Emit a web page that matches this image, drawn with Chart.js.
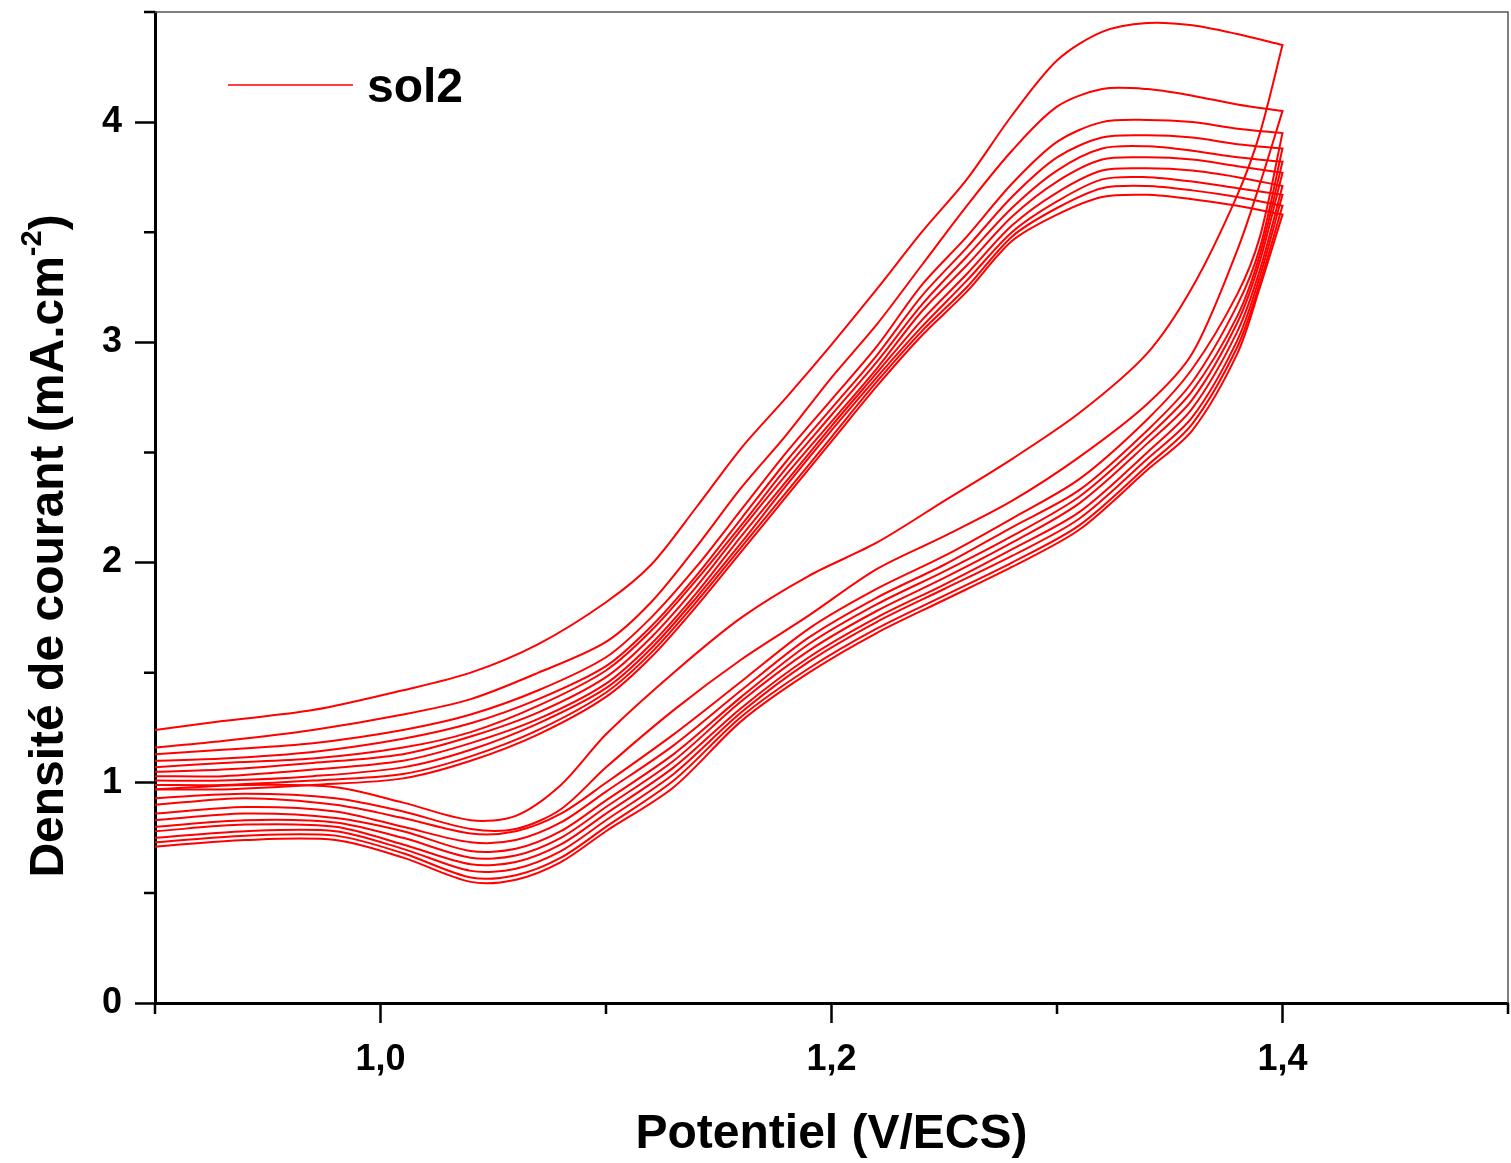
<!DOCTYPE html>
<html>
<head>
<meta charset="utf-8">
<script src="https://cdn.jsdelivr.net/npm/chart.js@4.4.0/dist/chart.umd.min.js"></script>
<style>
html, body { margin: 0; padding: 0; background: #fff; }
canvas { display: block; }
</style>
</head>
<body>
<canvas id="cvChart" width="1511" height="1163"></canvas>
<script>
// Potential (V/ECS) for the forward scan and the reverse scan
const potForward = [0.90, 0.94, 0.98, 1.01, 1.04, 1.06, 1.08, 1.10, 1.13, 1.16, 1.19, 1.22, 1.25, 1.28, 1.31, 1.34, 1.36, 1.38, 1.39, 1.40];
const potReverse = [1.40, 1.38, 1.36, 1.34, 1.32, 1.30, 1.28, 1.26, 1.24, 1.22, 1.20, 1.18, 1.16, 1.14, 1.12, 1.10, 1.07, 1.04, 1.01, 0.97, 0.93, 0.90];

// current density (mA.cm-2), forward scan, cycle 1..10
const fwd1  = [0.97, 0.99, 0.98, 0.91, 0.83, 0.85, 0.99, 1.22, 1.50, 1.75, 1.94, 2.09, 2.28, 2.47, 2.68, 2.95, 3.25, 3.67, 3.95, 4.35];
const fwd2  = [0.93, 0.95, 0.93, 0.87, 0.79, 0.79, 0.88, 1.07, 1.33, 1.56, 1.76, 1.97, 2.12, 2.28, 2.48, 2.72, 2.95, 3.42, 3.72, 4.05];
const fwd3  = [0.90, 0.93, 0.90, 0.84, 0.77, 0.78, 0.86, 1.00, 1.22, 1.46, 1.70, 1.88, 2.03, 2.20, 2.38, 2.65, 2.88, 3.22, 3.48, 3.95];
const fwd4  = [0.86, 0.89, 0.87, 0.80, 0.73, 0.74, 0.82, 0.96, 1.17, 1.42, 1.66, 1.84, 1.99, 2.16, 2.33, 2.60, 2.82, 3.17, 3.43, 3.88];
const fwd5  = [0.83, 0.86, 0.84, 0.78, 0.69, 0.70, 0.78, 0.92, 1.13, 1.39, 1.63, 1.81, 1.96, 2.12, 2.30, 2.57, 2.78, 3.12, 3.40, 3.82];
const fwd6  = [0.80, 0.83, 0.82, 0.75, 0.66, 0.67, 0.75, 0.89, 1.10, 1.37, 1.60, 1.78, 1.93, 2.09, 2.27, 2.54, 2.74, 3.09, 3.37, 3.77];
const fwd7  = [0.78, 0.81, 0.80, 0.72, 0.63, 0.64, 0.72, 0.86, 1.07, 1.34, 1.57, 1.75, 1.90, 2.06, 2.23, 2.50, 2.70, 3.05, 3.33, 3.71];
const fwd8  = [0.75, 0.78, 0.78, 0.70, 0.60, 0.61, 0.69, 0.83, 1.04, 1.32, 1.55, 1.73, 1.88, 2.03, 2.20, 2.47, 2.66, 3.01, 3.30, 3.67];
const fwd9  = [0.73, 0.76, 0.76, 0.68, 0.57, 0.58, 0.66, 0.80, 1.01, 1.30, 1.52, 1.70, 1.85, 2.00, 2.17, 2.44, 2.63, 2.98, 3.27, 3.62];
const fwd10 = [0.71, 0.74, 0.74, 0.66, 0.55, 0.56, 0.64, 0.78, 0.98, 1.28, 1.50, 1.68, 1.83, 1.98, 2.15, 2.42, 2.60, 2.95, 3.25, 3.58];

// current density (mA.cm-2), reverse scan, cycle 1..10
const rev1  = [4.35, 4.40, 4.44, 4.45, 4.41, 4.28, 4.03, 3.74, 3.50, 3.24, 2.99, 2.75, 2.52, 2.25, 1.99, 1.82, 1.63, 1.50, 1.42, 1.33, 1.28, 1.24];
const rev2  = [4.05, 4.08, 4.12, 4.15, 4.15, 4.07, 3.87, 3.62, 3.35, 3.08, 2.84, 2.58, 2.34, 2.07, 1.82, 1.64, 1.50, 1.38, 1.31, 1.24, 1.19, 1.16];
const rev3  = [3.95, 3.97, 4.00, 4.01, 4.00, 3.91, 3.72, 3.48, 3.26, 2.98, 2.74, 2.50, 2.24, 1.98, 1.75, 1.57, 1.42, 1.31, 1.24, 1.18, 1.15, 1.13];
const rev4  = [3.88, 3.90, 3.93, 3.94, 3.93, 3.84, 3.66, 3.43, 3.21, 2.94, 2.70, 2.46, 2.20, 1.94, 1.71, 1.53, 1.38, 1.27, 1.20, 1.14, 1.11, 1.10];
const rev5  = [3.82, 3.84, 3.87, 3.89, 3.88, 3.78, 3.61, 3.39, 3.17, 2.91, 2.67, 2.43, 2.17, 1.92, 1.69, 1.51, 1.35, 1.23, 1.16, 1.11, 1.09, 1.07];
const rev6  = [3.77, 3.80, 3.83, 3.84, 3.83, 3.73, 3.57, 3.35, 3.14, 2.88, 2.64, 2.40, 2.15, 1.89, 1.66, 1.48, 1.32, 1.21, 1.13, 1.09, 1.06, 1.05];
const rev7  = [3.71, 3.75, 3.78, 3.79, 3.78, 3.68, 3.53, 3.31, 3.10, 2.86, 2.62, 2.37, 2.12, 1.86, 1.63, 1.45, 1.29, 1.18, 1.10, 1.06, 1.03, 1.03];
const rev8  = [3.67, 3.70, 3.73, 3.75, 3.74, 3.64, 3.50, 3.28, 3.07, 2.84, 2.60, 2.35, 2.09, 1.84, 1.61, 1.43, 1.27, 1.15, 1.07, 1.03, 1.01, 1.01];
const rev9  = [3.62, 3.66, 3.69, 3.71, 3.70, 3.61, 3.48, 3.25, 3.05, 2.82, 2.57, 2.32, 2.07, 1.82, 1.59, 1.41, 1.24, 1.12, 1.04, 1.01, 0.99, 0.99];
const rev10 = [3.58, 3.62, 3.65, 3.67, 3.66, 3.58, 3.46, 3.23, 3.03, 2.80, 2.55, 2.30, 2.05, 1.80, 1.57, 1.39, 1.22, 1.10, 1.02, 0.99, 0.97, 0.97];

const xTickValues = [1.0, 1.2, 1.4];
const xTickLabels = ['1,0', '1,2', '1,4'];
const xMinorValues = [0.9, 1.1, 1.3, 1.5];
const yTickValues = [0, 1, 2, 3, 4];
const yMinorValues = [0.5, 1.5, 2.5, 3.5, 4.5];
const seriesName = 'sol2';
const xTitle = 'Potentiel (V/ECS)';

const forwardScans = [fwd1, fwd2, fwd3, fwd4, fwd5, fwd6, fwd7, fwd8, fwd9, fwd10];
const reverseScans = [rev1, rev2, rev3, rev4, rev5, rev6, rev7, rev8, rev9, rev10];

const RED = '#ff0000';
const FONT = '"Liberation Sans", Arial, sans-serif';

const datasets = forwardScans.map((fwd, i) => ({
    label: seriesName,
    data: potForward.map((p, j) => ({ x: p, y: fwd[j] }))
        .concat(potReverse.map((p, j) => ({ x: p, y: reverseScans[i][j] }))),
    showLine: true,
    borderColor: RED,
    borderWidth: 2,
    pointRadius: 0,
    tension: 0.3,
    fill: false
}));

// minor ticks, frame, titles and legend
const decorations = {
    id: 'decorations',
    afterDraw(chart) {
        const ctx = chart.ctx;
        const a = chart.chartArea;
        const xs = chart.scales.x;
        const ys = chart.scales.y;
        ctx.save();

        // thin frame on top and right
        ctx.strokeStyle = '#555';
        ctx.lineWidth = 1.5;
        ctx.beginPath();
        ctx.moveTo(a.left, a.top);
        ctx.lineTo(a.right, a.top);
        ctx.lineTo(a.right, a.bottom);
        ctx.stroke();

        // minor ticks
        ctx.strokeStyle = '#000';
        ctx.lineWidth = 2.5;
        ctx.beginPath();
        xMinorValues.forEach(v => {
            const px = xs.getPixelForValue(v);
            ctx.moveTo(px, a.bottom);
            ctx.lineTo(px, a.bottom + 11);
        });
        yMinorValues.forEach(v => {
            const py = ys.getPixelForValue(v);
            ctx.moveTo(a.left, py);
            ctx.lineTo(a.left - 11, py);
        });
        ctx.stroke();

        // x title
        ctx.fillStyle = '#000';
        ctx.font = 'bold 48px ' + FONT;
        ctx.textAlign = 'center';
        ctx.textBaseline = 'alphabetic';
        ctx.fillText(xTitle, (a.left + a.right) / 2, 1148);

        // y title with superscript
        const main = 'Densité de courant (mA.cm';
        const sup = '-2';
        const tail = ')';
        ctx.font = 'bold 48px ' + FONT;
        const wMain = ctx.measureText(main).width;
        const wTail = ctx.measureText(tail).width;
        ctx.font = 'bold 29px ' + FONT;
        const wSup = ctx.measureText(sup).width;
        const total = wMain + wSup + wTail;
        ctx.translate(63, 546);
        ctx.rotate(-Math.PI / 2);
        ctx.textAlign = 'left';
        ctx.font = 'bold 48px ' + FONT;
        ctx.fillText(main, -total / 2, 0);
        ctx.font = 'bold 29px ' + FONT;
        ctx.fillText(sup, -total / 2 + wMain, -22);
        ctx.font = 'bold 48px ' + FONT;
        ctx.fillText(tail, -total / 2 + wMain + wSup, 0);
        ctx.restore();

        // legend
        ctx.save();
        ctx.strokeStyle = RED;
        ctx.lineWidth = 1.5;
        ctx.beginPath();
        ctx.moveTo(228, 85);
        ctx.lineTo(353, 85);
        ctx.stroke();
        ctx.fillStyle = '#000';
        ctx.font = 'bold 48px ' + FONT;
        ctx.textAlign = 'left';
        ctx.textBaseline = 'alphabetic';
        ctx.fillText(seriesName, 367, 102);
        ctx.restore();
    }
};

const cvChart = new Chart(document.getElementById('cvChart').getContext('2d'), {
    type: 'scatter',
    data: { datasets: datasets },
    options: {
        responsive: false,
        animation: false,
        events: [],
        layout: { padding: { top: 12, right: 3, left: 0, bottom: 0 } },
        plugins: {
            legend: { display: false },
            tooltip: { enabled: false }
        },
        scales: {
            x: {
                type: 'linear',
                min: 0.9,
                max: 1.5,
                afterBuildTicks: s => { s.ticks = xTickValues.map(v => ({ value: v })); },
                afterFit: s => { s.height = 160; s.paddingLeft = 0; s.paddingRight = 0; },
                ticks: {
                    callback: (v, i) => xTickLabels[i],
                    color: '#000',
                    font: { family: FONT, size: 36, weight: 'bold' },
                    padding: 15,
                    maxRotation: 0
                },
                grid: { drawOnChartArea: false, drawTicks: true, tickLength: 20, tickWidth: 2.5, tickColor: '#000' },
                border: { display: true, color: '#000', width: 3 }
            },
            y: {
                type: 'linear',
                min: 0,
                max: 4.5,
                afterBuildTicks: s => { s.ticks = yTickValues.map(v => ({ value: v })); },
                afterFit: s => { s.width = 155; s.paddingTop = 0; s.paddingBottom = 0; },
                ticks: {
                    callback: v => String(v),
                    color: '#000',
                    font: { family: FONT, size: 36, weight: 'bold' },
                    padding: 13
                },
                grid: { drawOnChartArea: false, drawTicks: true, tickLength: 20, tickWidth: 2.5, tickColor: '#000' },
                border: { display: true, color: '#000', width: 3 }
            }
        }
    },
    plugins: [decorations]
});
</script>
</body>
</html>
